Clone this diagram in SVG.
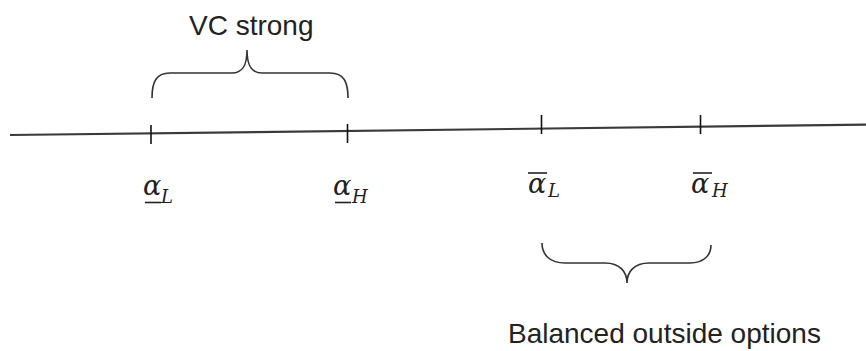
<svg xmlns="http://www.w3.org/2000/svg" width="866" height="351" viewBox="0 0 866 351">
<style>
.lbl{font-family:"Liberation Sans",Arial,sans-serif;font-size:28px;fill:#222}
.m{font-family:"DejaVu Serif","Liberation Serif",serif;font-style:italic;fill:#222}
.a{font-size:27px}
.s{font-size:18px}
.br{fill:none;stroke:#333;stroke-width:1.6}
.tk{stroke:#111;stroke-width:1.6}
.bar{stroke:#222;stroke-width:1.6}
</style>
<rect width="866" height="351" fill="#fff"/>
<g id="connectors">
<line x1="10" y1="135" x2="866" y2="124.7" stroke="#3a3a3a" stroke-width="2.2"/>
</g>
<g id="tick-alpha-L-low">
<line class="tk" x1="151" y1="125" x2="151" y2="144"/>
<text class="m a" x="143" y="195">α</text><text class="m s" x="161" y="203">L</text>
<line class="bar" x1="145" y1="202.5" x2="161" y2="202.5"/>
</g>
<g id="tick-alpha-H-low">
<line class="tk" x1="347.5" y1="124" x2="347.5" y2="143"/>
<text class="m a" x="333" y="195">α</text><text class="m s" x="352" y="203">H</text>
<line class="bar" x1="335" y1="202.5" x2="351" y2="202.5"/>
</g>
<g id="tick-alpha-L-high">
<line class="tk" x1="541.5" y1="115" x2="541.5" y2="134"/>
<text class="m a" x="528" y="193">α</text><text class="m s" x="548" y="197">L</text>
<line class="bar" x1="528" y1="173" x2="547" y2="173"/>
</g>
<g id="tick-alpha-H-high">
<line class="tk" x1="700.5" y1="115" x2="700.5" y2="134"/>
<text class="m a" x="691" y="193">α</text><text class="m s" x="712" y="197">H</text>
<line class="bar" x1="693" y1="173" x2="712" y2="173"/>
</g>
<g id="brace-vc-strong">
<path class="br" d="M152,98 C152,82 156,73 170,73 L232,73 C243,73 247,65 247,50 C247,65 251,73 262,73 L330,73 C344,73 348,82 348,98"/>
<text class="lbl" x="189" y="35">VC strong</text>
</g>
<g id="brace-balanced">
<path class="br" d="M542,243 C542,255 550,263 565,263 L605,263 C620,263 627,272 627,283 C627,272 634,263 649,263 L690,263 C704,263 711,255 711,245"/>
<text class="lbl" x="508" y="343">Balanced outside options</text>
</g>
</svg>
